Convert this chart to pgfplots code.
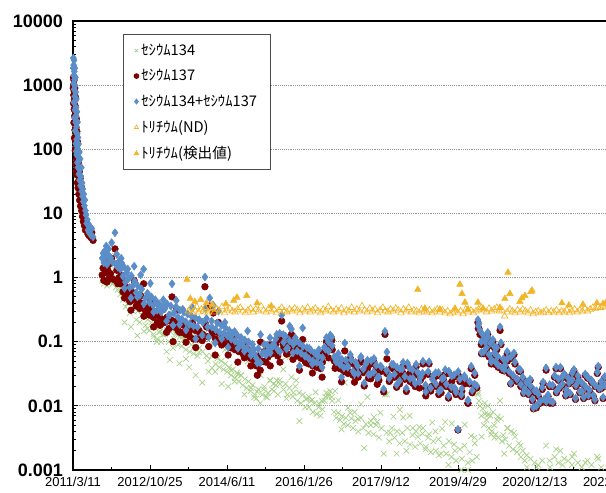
\documentclass[border=0pt]{standalone}
\usepackage{fontspec}
\setmainfont{Liberation Sans}
\newfontfamily\jp{Noto Sans CJK JP}
\usepackage{pgfplots}
\pgfplotsset{compat=1.18}
\usepackage{pgfplotstable}
\definecolor{cgreen}{RGB}{165,208,135}
\definecolor{cred}{RGB}{128,0,0}
\definecolor{cblue}{RGB}{91,141,201}
\definecolor{cyel}{RGB}{242,180,40}
\definecolor{cgrid}{RGB}{150,150,150}

\pgfplotstableread{
d c134 c137 sum
2 950 900 1850
3 1350 1300 2650
4 540 520 1060
5 1050 1000 2050
6 720 700 1420
7 280 260 540
8 1250 1200 2450
9 440 420 860
10 830 800 1630
11 160 150 310
12 620 600 1220
13 340 330 670
14 940 900 1840
15 210 200 410
16 500 480 980
17 100 95 195
18 290 280 570
19 670 650 1320
20 135 130 265
21 400 380 780
22 62 60 122
23 230 220 450
24 165 160 325
25 48 45 93
26 310 300 610
27 115 110 225
28 72 70 142
29 42 40 82
30 195 190 385
31 57 55 112
32 90 85 175
34 32 30 62
35 135 130 265
36 52 50 102
38 78 75 153
39 27 25 52
41 44 42 86
43 61 60 121
45 21 20 41
47 34 33 67
49 46 45 91
51 17 16 33
53 25 24 49
55 36 35 71
58 14 13 27
61 19 19 38
64 26 26 52
67 11 11 22
70 15 15 30
73 9.5 9 18.5
76 12 12 24
80 7.8 7.5 15.3
84 10 10 20
88 6.7 6.5 13.2
92 8.2 8 16.2
96 5.6 5.5 11.1
100 nan 7.5 9.5
105 nan 5.5 7
110 nan 6.5 8
115 nan 4.8 5.5
120 nan 6 6.8
125 nan 4.5 5
130 nan 5.2 6
138 nan 4.2 4.6
145 nan 5 5.8
155 nan 3.8 4.3
225 0.9 1.1 2.0
232 1.0 1.4 2.4
238 0.8 0.9 1.7
245 1.1 1.5 2.6
250 0.9 1.2 2.1
256 1.3 1.8 3.1
262 0.75 0.85 1.6
268 1.0 1.3 2.3
275 1.2 1.6 2.8
282 0.85 1.0 1.85
290 0.9 1.15 2.05
298 1.5 2.0 3.5
305 0.8 0.95 1.75
324 2.2 2.8 5.0
330 0.7 0.9 1.6
338 1.0 1.3 2.3
346 0.65 0.8 1.45
355 0.8 1.0 1.8
365 0.55 0.8 1.35
375 0.7 1.0 1.7
385 0.45 0.6 1.05
395 0.6 0.85 1.45
405 0.35 0.5 0.85
415 0.5 0.7 1.2
425 0.4 0.55 0.95
438 0.28 0.42 0.7
450 0.45 0.62 1.07
462 0.3 0.45 0.75
475 0.38 0.5 0.88
488 0.22 0.36 0.58
500 0.3 0.44 0.74
515 0.2 0.33 0.53
530 0.26 0.4 0.66
545 0.55 0.8 1.35
560 0.18 0.3 0.48
575 0.22 0.35 0.57
590 0.15 0.26 0.41
605 0.2 0.3 0.5
620 0.13 0.24 0.37
635 0.17 0.28 0.45
650 0.11 0.2 0.31
665 0.14 0.25 0.39
680 0.1 0.19 0.29
695 0.13 0.22 0.35
710 0.13 0.2 0.33
725 0.15 0.24 0.39
740 0.1 0.16 0.26
755 0.14 0.22 0.36
764 0.3 0.5 0.8
780 0.11 0.17 0.28
795 0.14 0.21 0.35
810 0.09 0.15 0.24
825 0.12 0.19 0.31
840 0.085 0.14 0.225
855 0.11 0.18 0.29
870 0.075 0.13 0.205
885 0.1 0.17 0.27
900 0.07 0.12 0.19
915 0.09 0.16 0.25
930 0.065 0.11 0.175
945 0.085 0.15 0.235
960 0.06 0.11 0.17
975 0.08 0.14 0.22
1000 0.07 0.13 0.2
1018 0.3 0.72 1.02
1030 0.06 0.17 0.23
1040 0.05 0.12 0.17
1055 0.12 0.36 0.48
1070 0.06 0.15 0.21
1082 0.09 0.28 0.37
1100 0.045 0.11 0.155
1115 0.055 0.14 0.195
1130 0.04 0.1 0.14
1145 0.05 0.13 0.18
1160 0.037 0.095 0.132
1175 0.045 0.12 0.165
1190 0.034 0.09 0.124
1205 0.04 0.11 0.15
1220 0.03 0.08 0.11
1235 0.037 0.1 0.137
1250 0.027 0.075 0.102
1265 0.033 0.095 0.128
1280 0.024 0.07 0.094
1295 0.03 0.085 0.115
1310 0.021 0.065 0.086
1325 0.026 0.08 0.106
1340 0.019 0.06 0.079
1355 0.024 0.075 0.099
1370 0.017 0.055 0.072
1385 0.021 0.07 0.091
1400 0.015 0.05 0.065
1415 0.013 0.042 0.055
1430 0.018 0.06 0.078
1445 0.011 0.036 0.047
1460 0.015 0.05 0.065
1475 0.02 0.07 0.09
1490 0.014 0.048 0.062
1505 0.016 0.058 0.074
1520 0.025 0.09 0.115
1535 0.018 0.065 0.083
1550 0.017 0.07 0.087
1565 0.021 0.09 0.111
1580 0.015 0.06 0.075
1595 0.025 0.11 0.135
1610 0.05 0.21 0.26
1625 0.018 0.08 0.098
1640 0.022 0.1 0.122
1655 0.015 0.065 0.08
1670 0.019 0.085 0.104
1685 0.028 0.13 0.158
1700 0.016 0.075 0.091
1715 0.02 0.095 0.115
1730 0.012 0.06 0.072
1745 0.016 0.08 0.096
1760 0.011 0.055 0.066
1775 0.015 0.07 0.085
1790 0.0095 0.05 0.0595
1805 0.013 0.068 0.081
1820 0.0095 0.045 0.0545
1835 0.012 0.062 0.074
1850 0.008 0.042 0.05
1865 0.011 0.055 0.066
1880 0.0075 0.04 0.0475
1895 0.0095 0.05 0.0595
1910 0.007 0.038 0.045
1925 0.0088 0.048 0.0568
1940 0.012 0.07 0.082
1955 0.016 0.1 0.116
1970 0.014 0.085 0.099
1985 0.017 0.11 0.127
2000 0.012 0.075 0.087
2015 0.008 0.05 0.058
2030 0.0065 0.042 0.0485
2045 0.0078 0.05 0.0578
2060 0.006 0.038 0.044
2075 0.007 0.046 0.053
2090 0.0052 0.034 0.0392
2105 0.0065 0.045 0.0515
2120 0.005 0.035 0.04
2140 0.0078 0.055 0.0628
2160 0.0045 0.03 0.0345
2180 0.0058 0.042 0.0478
2200 0.004 0.028 0.032
2220 0.0065 0.05 0.0565
2240 0.0045 0.033 0.0375
2260 0.0052 0.04 0.0452
2280 0.0038 0.027 0.0308
2300 0.0058 0.045 0.0508
2320 0.0036 0.03 0.0336
2340 0.005 0.038 0.043
2360 0.0032 0.025 0.0282
2380 0.0045 0.036 0.0405
2407 0.015 0.13 0.145
2420 0.0038 0.032 0.0358
2440 0.0028 0.024 0.0268
2460 0.0045 0.04 0.0445
2480 0.0032 0.028 0.0312
2500 0.004 0.036 0.04
2520 0.0026 0.022 0.0246
2540 0.0038 0.034 0.0378
2560 0.0028 0.026 0.0288
2580 0.0045 0.042 0.0465
2600 0.0025 0.024 0.0265
2620 0.0035 0.033 0.0365
2640 0.0023 0.02 0.0223
2660 0.0033 0.03 0.0333
2680 0.0026 0.025 0.0276
2700 0.0045 0.045 0.0495
2720 0.0021 0.019 0.0211
2740 0.0032 0.031 0.0342
2760 0.0019 0.017 0.0189
2780 0.0028 0.027 0.0298
2800 0.002 0.02 0.022
2820 0.003 0.03 0.033
2840 0.0018 0.016 0.0178
2860 0.0024 0.025 0.0274
2880 0.0018 0.02 0.0218
2900 0.0028 0.032 0.0348
2920 0.0016 0.018 0.0196
2940 0.0025 0.028 0.0305
2955 0.0014 0.015 0.0164
2970 nan 0.0042 0.0043
2985 0.0021 0.024 0.0261
3000 0.0015 0.017 0.0185
3020 0.0024 0.027 0.0294
3047 0.001 0.011 0.012
3060 0.0019 0.022 0.0239
3080 0.0014 0.016 0.0174
3100 0.0026 0.03 0.0326
3115 0.0016 0.019 0.0206
3124 0.015 0.2 0.22
3132 0.012 0.16 0.19
3140 0.01 0.13 0.15
3150 0.007 0.09 0.1
3160 0.009 0.12 0.13
3170 0.005 0.065 0.07
3180 0.0075 0.1 0.108
3190 0.006 0.075 0.081
3200 0.01 0.13 0.14
3210 0.0045 0.058 0.063
3220 0.007 0.088 0.095
3230 0.004 0.048 0.052
3240 0.008 0.1 0.108
3250 0.005 0.062 0.067
3260 0.0036 0.044 0.048
3270 0.006 0.075 0.081
3280 0.0032 0.04 0.043
3295 0.012 0.15 0.17
3310 0.0028 0.036 0.039
3320 0.0035 0.05 0.054
3335 0.003 0.04 0.043
3350 0.0045 0.065 0.07
3365 0.0024 0.032 0.0344
3380 0.004 0.055 0.059
3395 0.0021 0.028 0.0301
3410 0.0033 0.045 0.0483
3425 0.0019 0.024 0.0259
3440 0.0026 0.035 0.0376
3455 0.0016 0.02 0.0216
3470 0.002 0.026 0.028
3485 0.0014 0.017 0.0184
3500 0.0017 0.022 0.0237
3515 nan 0.015 0.0158
3530 0.0015 0.019 0.0205
3545 nan 0.012 0.0127
3560 0.0013 0.016 0.0173
3575 nan 0.0093 0.0099
3590 0.0012 0.014 0.0152
3605 nan 0.011 0.0117
3620 0.0014 0.018 0.0194
3635 nan 0.012 0.0127
3650 0.0024 0.036 0.039
3665 nan 0.014 0.0148
3680 0.0011 0.011 0.0121
3700 nan 0.02 0.021
3715 0.0016 0.028 0.0296
3730 nan 0.016 0.0168
3745 0.0013 0.025 0.0263
3760 0.002 0.038 0.04
3775 nan 0.021 0.022
3790 0.0015 0.03 0.0315
3805 nan 0.017 0.0178
3820 0.0014 0.026 0.0274
3835 nan 0.015 0.0157
3850 0.0012 0.024 0.0252
3865 0.0018 0.035 0.0368
3880 nan 0.02 0.0209
3895 0.0013 0.028 0.0293
3910 nan 0.016 0.0167
3925 0.0011 0.022 0.023
3940 nan 0.013 0.0136
3955 nan 0.019 0.0199
3970 0.0014 0.027 0.0284
3985 nan 0.017 0.0178
4000 0.0012 0.024 0.0252
4015 nan 0.014 0.0146
4030 nan 0.02 0.0209
4045 0.0016 0.032 0.0336
4060 nan 0.018 0.0188
4075 0.0011 0.023 0.024
4090 nan 0.013 0.0136
4105 nan 0.02 0.0209
}\cs

\pgfplotstableread{
d c134 c137 sum
372 0.92 1.1 2.0
397 0.2 0.48 0.68
422 0.68 0.68 1.36
447 0.17 0.31 0.48
472 0.61 0.9 1.5
497 0.125 0.38 0.5
522 0.57 0.52 1.1
547 0.145 0.25 0.39
572 0.16 0.35 0.51
597 0.36 0.45 0.81
622 0.12 0.17 0.29
647 0.1 0.3 0.4
672 0.145 0.18 0.33
697 0.13 0.32 0.45
722 0.07 0.14 0.21
747 0.052 0.21 0.26
772 0.08 0.1 0.18
797 0.13 0.31 0.44
822 0.046 0.14 0.186
847 0.12 0.2 0.32
872 0.054 0.098 0.152
897 0.04 0.145 0.185
922 0.14 0.2 0.34
947 0.03 0.081 0.111
972 0.068 0.15 0.218
997 0.023 0.104 0.127
1022 0.14 0.19 0.33
1047 0.034 0.084 0.118
1072 0.039 0.13 0.169
1097 0.034 0.062 0.096
1122 0.1 0.2 0.3
1147 0.022 0.089 0.111
1172 0.075 0.125 0.2
1197 0.02 0.062 0.082
1222 0.036 0.09 0.126
1247 0.024 0.12 0.144
1272 0.031 0.048 0.079
1297 0.03 0.086 0.116
1322 0.015 0.056 0.071
1347 0.049 0.098 0.147
1372 0.019 0.042 0.061
1397 0.0136 0.062 0.0756
1422 0.0165 0.03 0.0465
1447 0.03 0.099 0.129
1472 0.018 0.049 0.067
1497 0.0135 0.075 0.0885
1522 0.025 0.042 0.067
1547 0.022 0.07 0.092
1572 0.025 0.105 0.13
1597 0.022 0.048 0.07
1622 0.037 0.092 0.129
1647 0.013 0.064 0.077
1672 0.058 0.117 0.175
1697 0.014 0.053 0.067
1722 0.025 0.077 0.102
1747 0.0058 0.036 0.0418
1772 0.056 0.108 0.164
1797 0.0127 0.047 0.0597
1822 0.0137 0.065 0.0787
1847 0.0124 0.0325 0.0449
1872 0.0163 0.048 0.0643
1897 0.0109 0.064 0.0749
1922 0.0118 0.028 0.0398
1947 0.0139 0.063 0.0769
1972 0.0151 0.056 0.0711
1997 0.0137 0.105 0.1187
2022 0.017 0.0385 0.0555
2047 0.0122 0.053 0.0652
2072 0.0043 0.0237 0.028
2097 0.023 0.072 0.095
2122 0.0093 0.032 0.0413
2147 0.0064 0.046 0.0524
2172 0.008 0.0234 0.0314
2197 0.0063 0.035 0.0413
2222 0.0106 0.048 0.0586
2247 0.0022 0.0204 0.0226
2272 0.0137 0.038 0.0517
2297 0.005 0.0264 0.0314
2322 0.0067 0.048 0.0547
2347 0.0056 0.0217 0.0273
2372 0.0078 0.034 0.0418
2397 0.0018 0.0165 0.0183
2422 0.0151 0.054 0.0691
2447 0.0038 0.0255 0.0293
2472 0.0068 0.0375 0.0443
2497 0.0018 0.0195 0.0213
2522 0.0087 0.029 0.0377
2547 0.0066 0.041 0.0476
2572 0.002 0.0168 0.0188
2597 0.007 0.032 0.039
2622 0.0045 0.0224 0.0269
2647 0.004 0.0405 0.0445
2672 0.0047 0.019 0.0237
2697 0.0037 0.0286 0.0323
2722 0.0023 0.0143 0.0166
2747 0.0036 0.045 0.0486
2772 0.0055 0.0204 0.0259
2797 0.004 0.0288 0.0328
2822 0.0017 0.015 0.0167
2847 0.0044 0.022 0.0264
2872 0.0056 0.031 0.0366
2897 0.0012 0.0132 0.0144
2922 0.0053 0.024 0.0293
2947 0.002 0.0168 0.0188
2972 0.0042 0.03 0.0342
2997 0.001 0.014 0.015
3022 0.0051 0.022 0.0271
3047 0.0013 0.011 0.0123
3072 0.0034 0.038 0.0414
3097 0.0032 0.0187 0.0219
3127 0.016 0.16 0.176
3152 0.0033 0.065 0.0683
3177 0.011 0.09 0.101
3202 0.0073 0.112 0.119
3227 0.0036 0.045 0.0486
3252 0.0032 0.08 0.0832
3277 0.0068 0.052 0.0588
3302 0.0063 0.09 0.0963
3327 0.0018 0.035 0.0368
3352 0.0045 0.05 0.0545
3377 nan 0.022 0.0228
3402 0.0038 0.063 0.0668
3427 nan 0.0255 0.0265
3452 0.0024 0.034 0.0364
3477 nan 0.0156 0.0162
3502 0.0011 0.022 0.0231
3527 nan 0.025 0.026
3552 nan 0.009 0.0094
3577 0.0011 0.016 0.0171
3602 nan 0.0112 0.0117
3627 nan 0.0225 0.0234
3652 nan 0.0112 0.0117
3677 0.0014 0.02 0.0214
3702 nan 0.011 0.0115
3727 0.0021 0.038 0.0401
3752 nan 0.0187 0.0195
3777 0.0012 0.0275 0.0287
3802 nan 0.0143 0.0149
3827 nan 0.022 0.0229
3852 0.0016 0.031 0.0326
3877 nan 0.0126 0.0131
3902 nan 0.024 0.025
3927 nan 0.016 0.0167
3952 0.0013 0.03 0.0313
3977 nan 0.014 0.0146
4002 nan 0.023 0.024
4027 nan 0.012 0.0125
4052 0.0015 0.04 0.0415
4077 nan 0.0187 0.0195
4102 nan 0.0275 0.0286
}\csb

\pgfplotstableread{
d v
890 0.3
905 0.33
920 0.28
940 0.31
955 0.35
970 0.29
990 0.32
1005 0.3
1020 0.34
1040 0.28
1055 0.31
1075 0.33
1090 0.29
1110 0.32
1130 0.3
1150 0.35
1170 0.28
1190 0.31
1210 0.33
1230 0.3
1250 0.29
1270 0.32
1290 0.34
1310 0.3
1330 0.28
1350 0.31
1370 0.33
1390 0.29
1410 0.32
1430 0.3
1450 0.36
1470 0.31
1490 0.29
1510 0.33
1530 0.3
1550 0.32
1570 0.28
1590 0.31
1610 0.34
1630 0.3
1650 0.29
1670 0.32
1690 0.3
1710 0.33
1730 0.31
1750 0.28
1770 0.32
1790 0.3
1810 0.34
1830 0.29
1850 0.31
1870 0.33
1890 0.3
1910 0.28
1930 0.32
1950 0.3
1970 0.35
1990 0.31
2010 0.29
2030 0.32
2050 0.3
2070 0.33
2090 0.28
2110 0.31
2130 0.3
2150 0.34
2170 0.29
2190 0.32
2210 0.3
2230 0.36
2250 0.31
2270 0.29
2290 0.33
2310 0.3
2330 0.32
2350 0.28
2370 0.31
2390 0.34
2410 0.3
2430 0.29
2450 0.32
2470 0.3
2490 0.33
2510 0.31
2530 0.28
2550 0.32
2570 0.3
2590 0.34
2610 0.29
2630 0.31
2650 0.3
2670 0.28
2690 0.32
2710 0.3
2730 0.29
2750 0.31
2770 0.28
2790 0.3
2810 0.32
2830 0.29
2850 0.31
2870 0.28
2890 0.3
2910 0.27
2930 0.29
2950 0.31
2970 0.28
2990 0.3
3010 0.27
3030 0.32
3050 0.29
3070 0.31
3090 0.28
3110 0.3
3130 0.32
3150 0.34
3170 0.31
3190 0.29
3210 0.33
3230 0.3
3250 0.32
3270 0.34
3290 0.3
3310 0.31
3330 0.25
3350 0.29
3370 0.32
3390 0.3
3410 0.28
3430 0.31
3450 0.29
3470 0.32
3490 0.3
3510 0.28
3530 0.31
3550 0.27
3570 0.29
3590 0.3
3610 0.28
3630 0.29
3650 0.31
3670 0.28
3690 0.3
3710 0.29
3730 0.31
3750 0.28
3770 0.3
3790 0.29
3810 0.31
3830 0.28
3850 0.3
3870 0.32
3890 0.29
3910 0.31
3930 0.3
3950 0.33
3970 0.3
3990 0.32
4010 0.34
4030 0.33
4050 0.35
4070 0.34
4090 0.36
4110 0.35
}\hnd

\pgfplotstableread{
d v
880 0.93
905 0.47
940 0.42
985 0.45
1030 0.4
1075 0.38
1180 0.39
1240 0.44
1265 0.49
1340 0.52
1420 0.4
1530 0.36
2660 0.65
2715 0.33
2831 0.32
2947 0.33
2985 0.78
3001 0.56
3024 0.41
3047 0.32
3124 0.41
3163 0.33
3294 0.34
3332 0.47
3356 1.2
3371 0.56
3448 0.42
3464 0.48
3487 0.52
3533 0.6
3541 0.63
3772 0.4
3826 0.37
3934 0.38
4042 0.4
4089 0.39
4110 0.4
}\hdet

\begin{document}
\begin{tikzpicture}
\useasboundingbox (-54.75pt,-16.5pt) rectangle (399.75pt,352.5pt);
\clip (-54.75pt,-16.5pt) rectangle (399.75pt,352.5pt);
\begin{axis}[
  at={(0pt,0pt)}, anchor=south west,
  scale only axis, width=418pt, height=336.75pt,
  xmin=0, xmax=4300,
  ymode=log, ymin=0.001, ymax=10000,
  xtick={0,594,1188,1782,2376,2970,3564,4158},
  xticklabels={2011/3/11,2012/10/25,2014/6/11,2016/1/26,2017/9/12,2019/4/29,2020/12/13,2022/7/30},
  minor x tick num=1,
  ytick={0.001,0.01,0.1,1,10,100,1000,10000},
  yticklabels={0.001,0.01,0.1,1,10,100,1000,10000},
  xtick pos=bottom, ytick pos=left, tick align=inside,
  major tick length=4pt, minor tick length=2.5pt,
  tick style={black, line width=0.6pt},
  ymajorgrids,
  major grid style={cgrid, densely dotted, line width=0.7pt},
  axis line style={line width=1.5pt},
  x tick label style={font=\fontsize{9.75}{11}\selectfont, yshift=-1.5pt},
  y tick label style={font=\fontsize{13.5}{15}\selectfont\bfseries, xshift=-4pt},
  legend image code/.code={\draw[mark repeat=2,mark phase=2,#1,mark size=1.7pt] plot coordinates {(0cm,0cm) (0.15cm,0cm) (0.3cm,0cm)};},
  legend style={at={(axis description cs:0.0897,0.971)}, anchor=north west,
    draw=black!70, line width=0.8pt, fill=white,
    font=\jp\fontsize{11}{13}\selectfont,
    row sep=5pt, inner xsep=8pt, inner ysep=5pt,
    nodes={inner xsep=2pt}},
  legend cell align=left,
]
\addplot[only marks, mark=x, mark size=3pt, draw=cgreen, line width=0.5pt] table[x=d,y=c134]{\cs};
\addlegendentry{ｾｼｳﾑ134}
\addplot[forget plot, only marks, mark=x, mark size=3pt, draw=cgreen, line width=0.5pt] table[x=d,y=c134]{\csb};
\addplot[only marks, mark=*, mark size=2.5pt, draw=cred, fill=cred] table[x=d,y=c137]{\cs};
\addlegendentry{ｾｼｳﾑ137}
\addplot[forget plot, only marks, mark=*, mark size=2.5pt, draw=cred, fill=cred] table[x=d,y=c137]{\csb};
\addplot[only marks, mark=diamond*, mark size=3pt, draw=cblue, fill=cblue] table[x=d,y=sum]{\cs};
\addlegendentry{ｾｼｳﾑ134+ｾｼｳﾑ137}
\addplot[forget plot, only marks, mark=diamond*, mark size=3pt, draw=cblue, fill=cblue] table[x=d,y=sum]{\csb};
\addplot[only marks, mark=triangle, mark size=2.8pt, draw=cyel, line width=0.5pt] table[x=d,y=v]{\hnd};
\addlegendentry{ﾄﾘﾁｳﾑ(ND)}
\addplot[only marks, mark=triangle*, mark size=2.8pt, draw=cyel, fill=cyel] table[x=d,y=v]{\hdet};
\addlegendentry{ﾄﾘﾁｳﾑ(検出値)}
\end{axis}
\end{tikzpicture}
\end{document}
